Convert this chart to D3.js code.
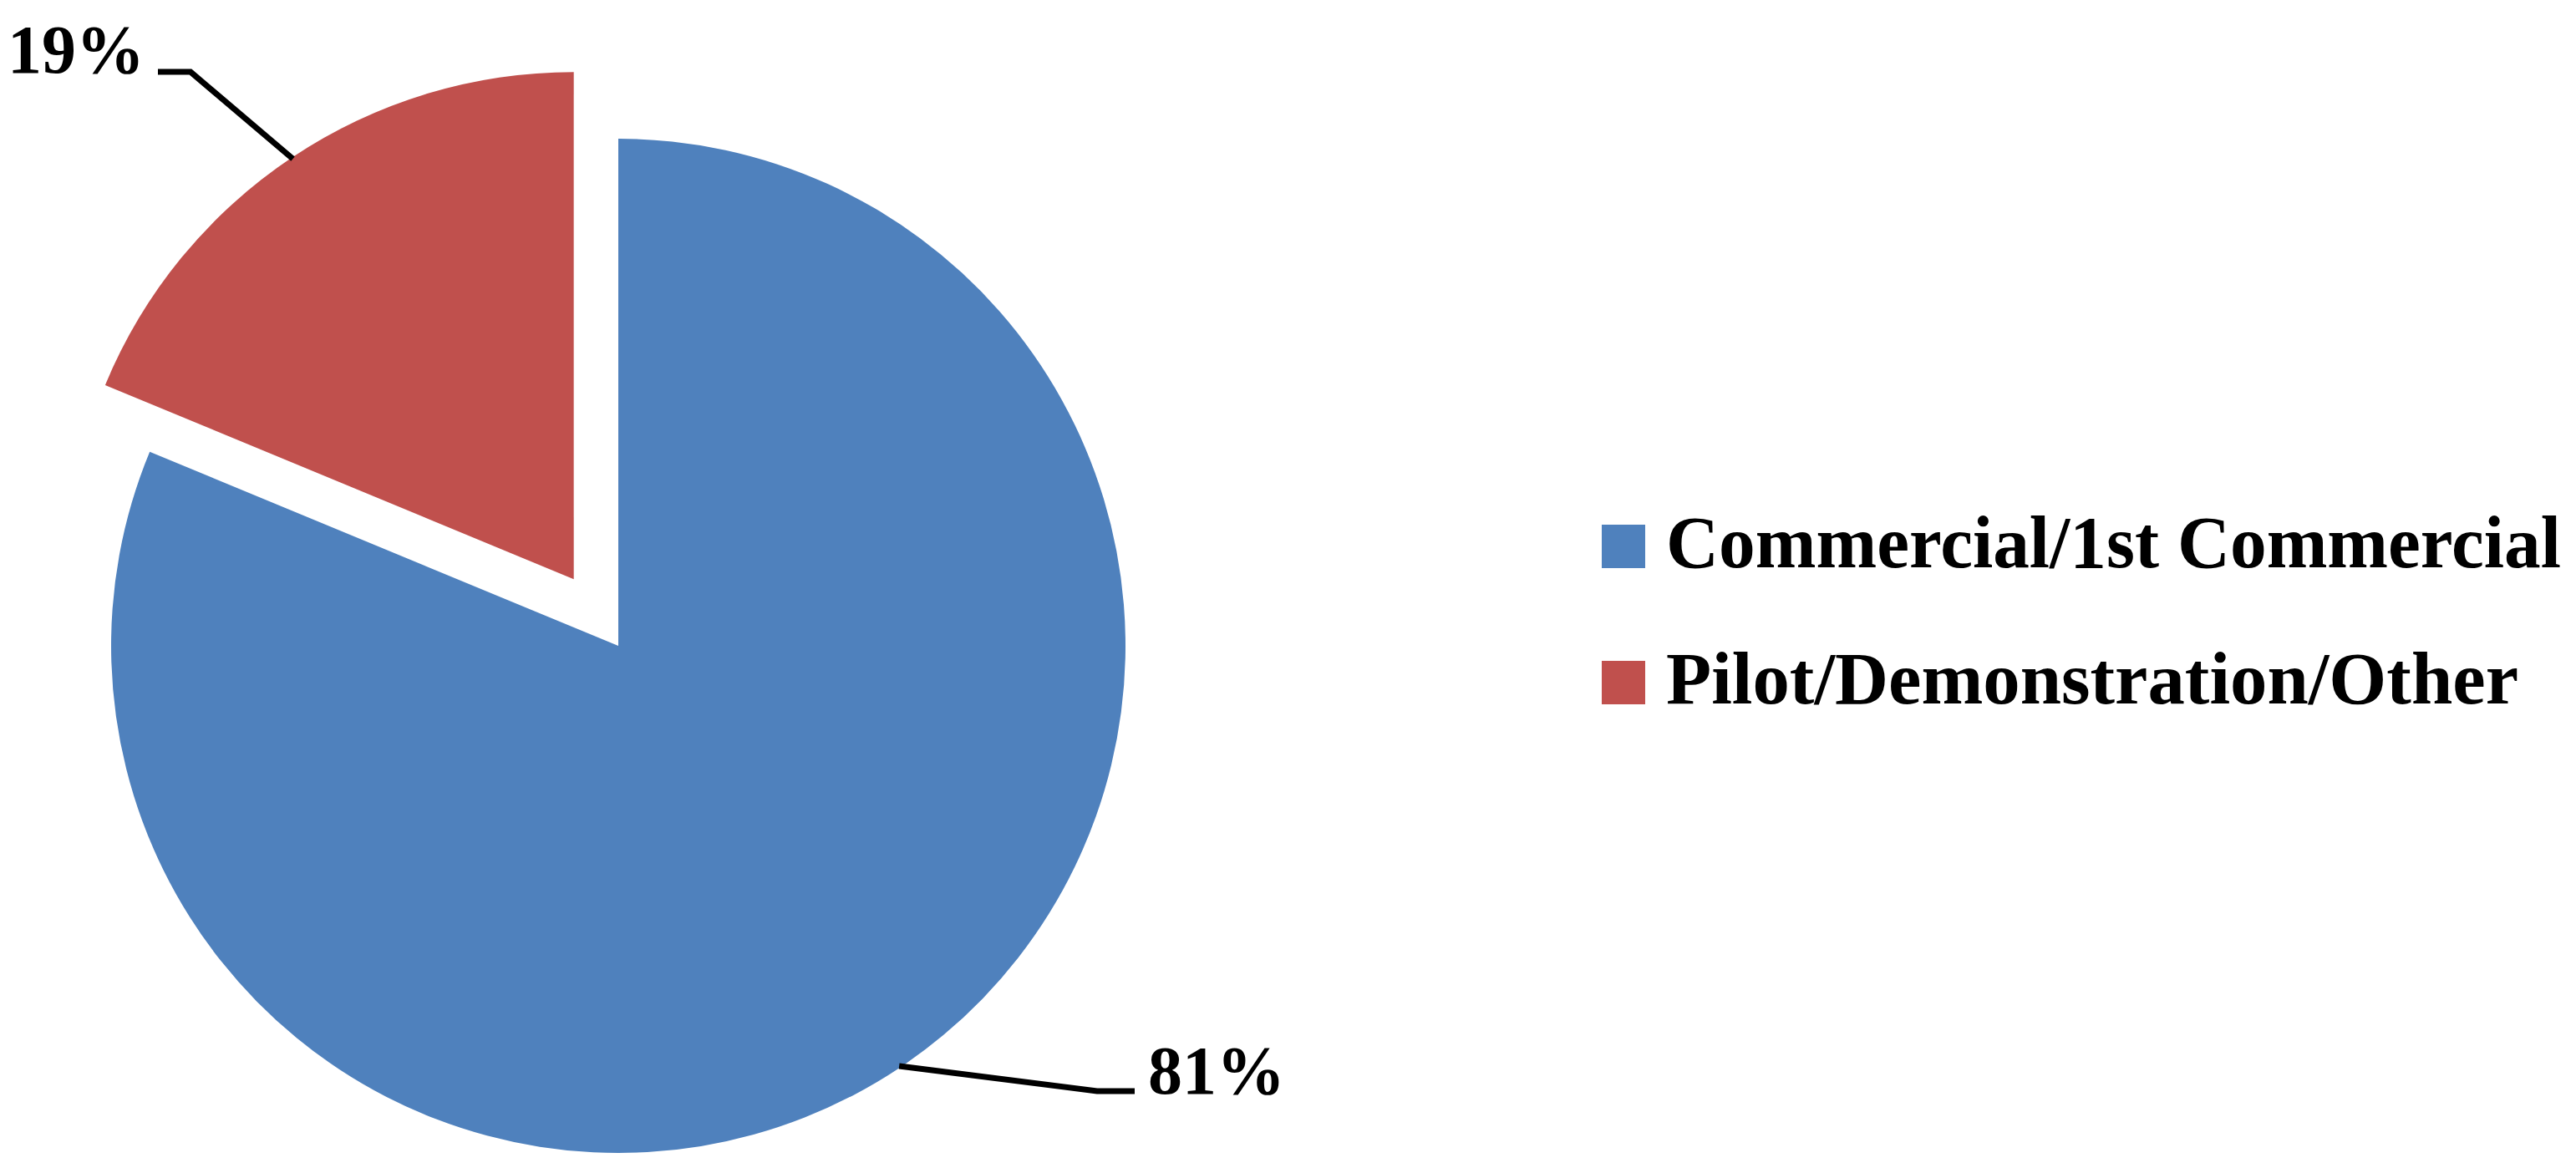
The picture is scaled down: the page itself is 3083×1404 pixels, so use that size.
<!DOCTYPE html>
<html>
<head>
<meta charset="utf-8">
<script src="https://cdn.jsdelivr.net/npm/d3@7"></script>
<style>
  html, body { margin: 0; padding: 0; background: #fff; }
  svg { display: block; }
</style>
</head>
<body>
<svg id="chart" width="3083" height="1404"></svg>
<script>
// ---- data ----
const categories = ["Commercial/1st Commercial", "Pilot/Demonstration/Other"];
const values = [81.25, 18.75];
const colors = ["#4F81BD", "#C0504D"];
const explode = [0, 96];

// ---- layout ----
const W = 3083, H = 1404;
const cx = 740, cy = 773, R = 607;
const svg = d3.select("#chart");
const fontFam = "'Palatino Linotype','Book Antiqua',Palatino,'Liberation Serif','DejaVu Serif',serif";
const total = d3.sum(values);
const fmt = d3.format(".0%");
const valueLabels = values.map(v => fmt(v / total));

const pie = d3.pie().sort(null).value(d => d)(values);
const arc = d3.arc().innerRadius(0).outerRadius(R);
const g = svg.append("g").attr("transform", `translate(${cx},${cy})`);

function offset(d, i) {
  const a = (d.startAngle + d.endAngle) / 2;
  return [Math.sin(a) * explode[i], -Math.cos(a) * explode[i]];
}

g.selectAll("path.slice").data(pie).enter().append("path")
  .attr("class", "slice")
  .attr("d", arc)
  .attr("fill", (d, i) => colors[i])
  .attr("transform", (d, i) => { const o = offset(d, i); return `translate(${o[0]},${o[1]})`; });

// leader lines & labels
const labelPos = [
  { elbow: [1313, 1306], end: [1358, 1306], text: [1374, 1309], anchor: "start" },
  { elbow: [228, 86], end: [189, 86], text: [173, 87], anchor: "end" }
];
pie.forEach((d, i) => {
  const a = (d.startAngle + d.endAngle) / 2;
  const o = offset(d, i);
  const sx = cx + o[0] + Math.sin(a) * (R - 2);
  const sy = cy + o[1] - Math.cos(a) * (R - 2);
  const p = labelPos[i];
  svg.append("polyline")
    .attr("points", [[sx, sy], p.elbow, p.end].map(q => q.join(",")).join(" "))
    .attr("fill", "none").attr("stroke", "#000").attr("stroke-width", 7);
  svg.append("text")
    .attr("x", p.text[0]).attr("y", p.text[1])
    .attr("text-anchor", p.anchor)
    .attr("font-family", fontFam).attr("font-weight", "bold")
    .attr("font-size", 82).attr("fill", "#000")
    .text(valueLabels[i]);
});

// legend
const legendX = 1917, legendY0 = 628, legendStep = 163, sq = 52;
const textWidths = [1071, 1020];
const lg = svg.append("g");
categories.forEach((c, i) => {
  const y = legendY0 + i * legendStep;
  lg.append("rect").attr("x", legendX).attr("y", y).attr("width", sq).attr("height", sq)
    .attr("fill", colors[i]);
  lg.append("text")
    .attr("x", 1994).attr("y", y + 51)
    .attr("font-family", fontFam).attr("font-weight", "bold")
    .attr("font-size", 88).attr("fill", "#000")
    .attr("textLength", textWidths[i]).attr("lengthAdjust", "spacingAndGlyphs")
    .text(c);
});
</script>
</body>
</html>
